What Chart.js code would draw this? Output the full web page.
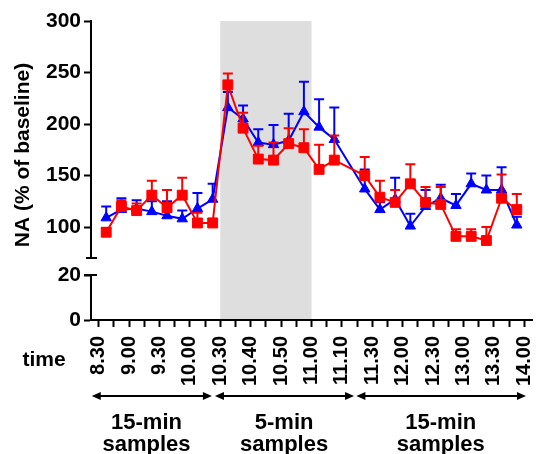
<!DOCTYPE html>
<html>
<head>
<meta charset="utf-8">
<script src="https://cdn.jsdelivr.net/npm/chart.js@4.4.1/dist/chart.umd.min.js"></script>
<style>
  html, body { margin: 0; padding: 0; background: #fff; }
  #wrap { width: 540px; height: 454px; }
</style>
</head>
<body>
<div id="wrap"><canvas id="naChart" width="540" height="454"></canvas></div>
<script>
// one tick per sampling slot boundary, time printed on every other tick
const tickLabels = ['8.30', '', '9.00', '', '9.30', '', '10.00', '', '10.30', '', '10.40', '', '10.50', '', '11.00',
  '', '11.10', '', '11.30', '', '12.00', '', '12.30', '', '13.00', '', '13.30', '', '14.00'];

const upperTicks = [100, 150, 200, 250, 300];
const lowerTicks = [0, 20];

// NA, % of baseline (mean and SEM per slot; slot 16 has no sample)
const naBlue = [109, 117, 118, 115, 111, 108, 118, 127, 216, 205, 182, 180, 184, 212, 197, 185, null,
  137, 117, 127, 101, 120, 128, 121, 142, 136, 136, 102];
const naBlueErr = [11, 11, 8, 10, 14, 8, 15, 15, 15, 13, 13, 19, 26, 29, 27, 31, null,
  19, 7, 21, 12, 16, 13, 11, 10, 14, 22, 8];
const naRed = [95, 120, 116, 131, 119, 131, 104, 104, 238, 196, 166, 165, 181, 177, 156, 165, null,
  150, 129, 124, 142, 124, 122, 91, 91, 87, 128, 117];
const naRedErr = [4, 6, 7, 14, 17, 17, 10, 4, 11, 15, 13, 17, 15, 18, 24, 24, null,
  18, 16, 12, 19, 15, 17, 7, 7, 13, 23, 15];

// 5-min sampling window, in tick units
const shadeFrom = 8;
const shadeTo = 14;

const groups = [
  { lines: ['15-min', 'samples'], from: -0.45, to: 7.45, textAt: 3.15 },
  { lines: ['5-min', 'samples'], from: 7.65, to: 16.8, textAt: 12.2 },
  { lines: ['15-min', 'samples'], from: 16.95, to: 28.1, textAt: 22.5 }
];

const FONT = "'Liberation Sans', Arial, Helvetica, sans-serif";
Chart.defaults.font.family = FONT;
Chart.defaults.font.weight = 'bold';
Chart.defaults.color = '#000';

const toPoints = vals => vals.map((v, i) => ({ x: i + 0.5, y: v }));
const errorsFor = { red: naRedErr, blue: naBlueErr };

function arrow(ctx, x0, x1, y) {
  const head = 9, half = 4;
  ctx.beginPath();
  ctx.moveTo(x0 + head - 1, y);
  ctx.lineTo(x1 - head + 1, y);
  ctx.stroke();
  ctx.beginPath();
  ctx.moveTo(x0, y);
  ctx.lineTo(x0 + head, y - half);
  ctx.lineTo(x0 + head, y + half);
  ctx.closePath();
  ctx.fill();
  ctx.beginPath();
  ctx.moveTo(x1, y);
  ctx.lineTo(x1 - head, y - half);
  ctx.lineTo(x1 - head, y + half);
  ctx.closePath();
  ctx.fill();
}

const decorations = {
  id: 'decorations',
  beforeDraw(chart) {
    const { ctx, chartArea, scales: { x } } = chart;
    const x0 = x.getPixelForValue(shadeFrom);
    const x1 = x.getPixelForValue(shadeTo);
    ctx.save();
    ctx.fillStyle = '#dedede';
    ctx.fillRect(x0, chartArea.top, x1 - x0, chartArea.bottom - chartArea.top);
    ctx.restore();
  },
  afterDatasetDraw(chart, args) {
    const ds = chart.data.datasets[args.index];
    const errs = errorsFor[ds.label];
    const yScale = chart.scales[ds.yAxisID];
    const { ctx } = chart;
    ctx.save();
    ctx.strokeStyle = ds.borderColor;
    ctx.lineWidth = 2;
    args.meta.data.forEach((pt, i) => {
      const v = ds.data[i].y;
      if (v === null || errs[i] === null) return;
      const top = yScale.getPixelForValue(v + errs[i]);
      ctx.beginPath();
      ctx.moveTo(pt.x, pt.y);
      ctx.lineTo(pt.x, top);
      ctx.moveTo(pt.x - 5, top);
      ctx.lineTo(pt.x + 5, top);
      ctx.stroke();
    });
    ctx.restore();
  },
  afterDraw(chart) {
    const { ctx, scales: { x, y, yLow } } = chart;
    const axisX = chart.chartArea.left;
    ctx.save();
    ctx.strokeStyle = '#000';
    ctx.fillStyle = '#000';
    ctx.lineWidth = 2;

    // caps either side of the axis break
    ctx.beginPath();
    ctx.moveTo(axisX - 5, y.bottom);
    ctx.lineTo(axisX + 6, y.bottom);
    ctx.moveTo(axisX - 7, yLow.top);
    ctx.lineTo(axisX + 6, yLow.top);
    ctx.stroke();

    // y-axis title
    ctx.save();
    ctx.translate(23, 155);
    ctx.rotate(-Math.PI / 2);
    ctx.textAlign = 'center';
    ctx.textBaseline = 'middle';
    ctx.font = 'bold 21px ' + FONT;
    ctx.fillText('NA (% of baseline)', 0, 0);
    ctx.restore();

    ctx.font = 'bold 21px ' + FONT;
    ctx.textAlign = 'center';
    ctx.textBaseline = 'middle';
    ctx.fillText('time', 44, 360);

    // sampling periods below the time axis
    ctx.font = 'bold 22px ' + FONT;
    ctx.textBaseline = 'alphabetic';
    groups.forEach(g => {
      const x0 = x.getPixelForValue(g.from);
      const x1 = x.getPixelForValue(g.to);
      arrow(ctx, x0, x1, 396);
      const cx = x.getPixelForValue(g.textAt);
      ctx.fillText(g.lines[0], cx, 429);
      ctx.fillText(g.lines[1], cx, 451);
    });
    ctx.restore();
  }
};

const tickGrid = { drawOnChartArea: false, tickLength: 7, tickWidth: 2, tickColor: '#000' };
const axisBorder = { color: '#000', width: 2 };

new Chart(document.getElementById('naChart'), {
  type: 'line',
  data: {
    datasets: [
      {
        label: 'red',
        data: toPoints(naRed),
        yAxisID: 'y',
        borderColor: '#ff0000',
        backgroundColor: '#ff0000',
        borderWidth: 2,
        pointStyle: 'rect',
        pointRadius: 7,
        pointBorderWidth: 1,
        pointHoverRadius: 7,
        tension: 0,
        spanGaps: true
      },
      {
        label: 'blue',
        data: toPoints(naBlue),
        yAxisID: 'y',
        borderColor: '#0000ff',
        backgroundColor: '#0000ff',
        borderWidth: 2,
        pointStyle: 'triangle',
        pointRadius: 6,
        pointBorderWidth: 1,
        pointHoverRadius: 6,
        tension: 0,
        spanGaps: true
      }
    ]
  },
  options: {
    responsive: false,
    animation: false,
    layout: { padding: { top: 21, right: 2, left: 0, bottom: 0 } },
    plugins: { legend: { display: false }, tooltip: { enabled: false } },
    scales: {
      x: {
        type: 'linear',
        min: -0.5,
        max: 28.5,
        afterBuildTicks: s => { s.ticks = tickLabels.map((_, i) => ({ value: i })); },
        ticks: {
          autoSkip: false,
          minRotation: 90,
          maxRotation: 90,
          padding: 9,
          font: { size: 20 },
          callback: v => tickLabels[Math.round(v)]
        },
        grid: tickGrid,
        border: axisBorder,
        afterFit: s => { s.height = 134; s.paddingLeft = 0; s.paddingRight = 0; }
      },
      yLow: {
        type: 'linear',
        position: 'left',
        stack: 'na',
        stackWeight: 45,
        min: 0,
        max: 20,
        afterBuildTicks: s => { s.ticks = lowerTicks.map(v => ({ value: v })); },
        ticks: { font: { size: 21 }, padding: 3 },
        grid: tickGrid,
        border: axisBorder,
        afterFit: s => { s.width = 91; }
      },
      yGap: {
        type: 'linear',
        position: 'left',
        stack: 'na',
        stackWeight: 17,
        min: 0,
        max: 1,
        ticks: { display: false },
        grid: { display: false },
        border: { display: false },
        afterFit: s => { s.width = 91; }
      },
      y: {
        type: 'linear',
        position: 'left',
        stack: 'na',
        stackWeight: 237,
        min: 70,
        max: 300,
        afterBuildTicks: s => { s.ticks = upperTicks.map(v => ({ value: v })); },
        ticks: { font: { size: 21 }, padding: 3 },
        grid: tickGrid,
        border: axisBorder,
        afterFit: s => { s.width = 91; }
      }
    }
  },
  plugins: [decorations]
});
</script>
</body>
</html>
